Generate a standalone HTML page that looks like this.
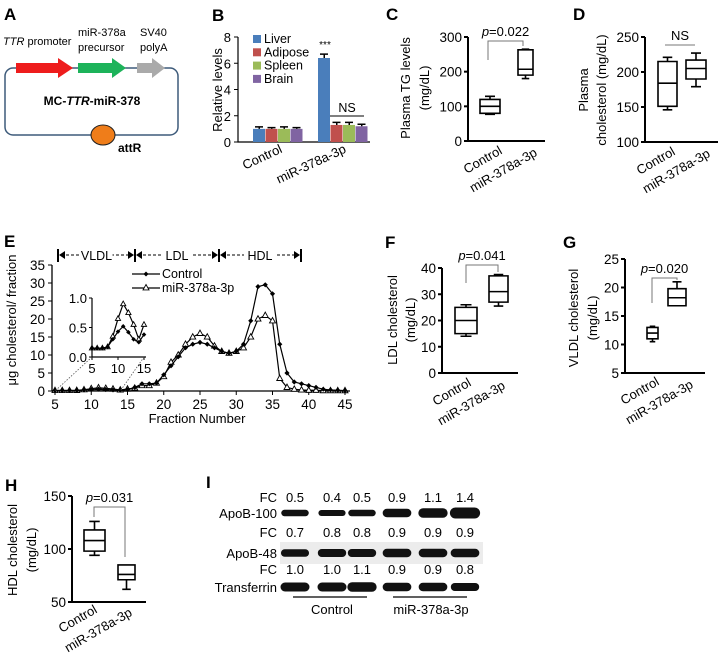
<!DOCTYPE html>
<html><head><meta charset="utf-8"><style>
body{margin:0;background:#fff}
svg{display:block;font-family:"Liberation Sans",Arial,sans-serif}
</style></head><body>
<svg id="fig" width="722" height="659" viewBox="0 0 722 659" xmlns="http://www.w3.org/2000/svg">
<g font-size="11">
<text x="4" y="20" font-size="17" font-weight="bold">A</text>
<text x="3" y="45"><tspan font-style="italic">TTR</tspan> promoter</text>
<text x="78" y="36">miR-378a</text>
<text x="78" y="51">precursor</text>
<text x="140" y="36">SV40</text>
<text x="140" y="51">polyA</text>
<rect x="5" y="68" width="173" height="67" rx="8" fill="none" stroke="#3d5a7a" stroke-width="1.5"/>
<polygon points="16,63 58,63 58,58 73,68 58,78 58,73 16,73" fill="#ee1c1c"/>
<polygon points="78,63 112,63 112,58 126,68 112,78 112,73 78,73" fill="#1db35a"/>
<polygon points="137,63 152,63 152,58 165,68 152,78 152,73 137,73" fill="#aaaaaa"/>
<text x="92" y="105" text-anchor="middle" font-weight="bold" font-size="12">MC-<tspan font-style="italic">TTR</tspan>-miR-378</text>
<ellipse cx="103" cy="135" rx="12" ry="10" fill="#ef7d1a" stroke="#222" stroke-width="1"/>
<text x="118" y="152" font-weight="bold" font-size="12">attR</text>
</g>
<g id="panelB"></g>
<g id="panelC"></g>
<g id="panelD"></g>
<g id="panelE"></g>
<g id="panelF"></g>
<g id="panelG"></g>
<g id="panelH"></g>
<g id="panelI"></g>
</svg>
<script>
// ---- Panel B data ----
const bGroups = ["Control","miR-378a-3p"];
const bSeries = ["Liver","Adipose","Spleen","Brain"];
const bColors = ["#4a7ebb","#c0504d","#9bbb59","#8064a2"];
const bCtrl = [1.0,1.0,1.0,1.0];
const bMir = [6.4,1.3,1.3,1.2];
const bCtrlErr = [0.15,0.1,0.15,0.1];
const bMirErr = [0.3,0.2,0.2,0.15];
const bTicks = [0,2,4,6,8];
// ---- Box plot data [min,q1,median,q3,max] ----
const cCtrl=[77,80,100,120,129], cMir=[180,190,207,263,265], cTicks=[0,100,200,300];
const dCtrl=[146,151,184,215,221], dMir=[179,190,205,217,227], dTicks=[100,150,200,250];
const fCtrl=[14,15,20,25,26], fMir=[25.5,27,31,37,37.5], fTicks=[0,10,20,30,40];
const gCtrl=[10.5,11,12,13,13.2], gMir=[16.8,16.8,18.2,19.8,21], gTicks=[5,10,15,20,25];
const hCtrl=[94,98,108,118,126], hMir=[62,71,76,85,85], hTicks=[50,100,150];
// ---- Panel E data ----
const eFractions=[5,6,7,8,9,10,11,12,13,14,15,16,17,18,19,20,21,22,23,24,25,26,27,28,29,30,31,32,33,34,35,36,37,38,39,40,41,42,43,44,45];
const eControl=[0.15,0.15,0.15,0.17,0.3,0.43,0.52,0.42,0.3,0.25,0.38,1,2,2,2.2,4.5,7,9.5,12,13,13.5,13,12,11,10.5,11,13,19.5,29,29.5,27,13,5,2.5,2,1.5,1,0.5,0.3,0.2,0.1];
const eMir=[0.15,0.15,0.15,0.17,0.35,0.65,0.9,0.75,0.55,0.3,0.55,0.8,1.5,1.5,2.2,4,8,10,13,15,16,15,12.5,11,10.5,11,12,15,20,21,19.5,3.5,1,0.5,0.3,0.2,0.2,0.1,0.1,0.1,0.1];
const eTicksY=[0,5,10,15,20,25,30,35], eTicksX=[5,10,15,20,25,30,35,40,45];
const eInsetTicksY=[0.0,0.5,1.0], eInsetTicksX=[5,10,15];
// ---- Panel I data ----
const iFC1=["0.5","0.4","0.5","0.9","1.1","1.4"];
const iFC2=["0.7","0.8","0.8","0.9","0.9","0.9"];
const iFC3=["1.0","1.0","1.1","0.9","0.9","0.8"];
const iApoB100=[0.5,0.4,0.5,0.9,1.1,1.4];
const iApoB48=[0.7,0.8,0.8,0.9,0.9,0.9];
const iTransferrin=[1.0,1.0,1.1,0.9,0.9,0.8];

const NS="http://www.w3.org/2000/svg";
function el(parent,tag,attrs,text){const e=document.createElementNS(NS,tag);for(const k in attrs)e.setAttribute(k,attrs[k]);if(text!==undefined)e.textContent=text;parent.appendChild(e);return e;}
function lin(d0,d1,r0,r1){return v=>r0+(v-d0)*(r1-r0)/(d1-d0);}

// ===== Panel B =====
(function(){
const g=document.getElementById('panelB');
let t=el(g,'text',{x:212,y:21,'font-size':17,'font-weight':'bold'},'B');

const y=lin(0,8,142,37);
let a=el(g,'path',{d:'M238,37 V142 H370',stroke:'#000',fill:'none','stroke-width':1.2});

bTicks.forEach(v=>{let l=el(g,'line',{x1:234,x2:238,y1:y(v),y2:y(v),stroke:'#000'});
let tt=el(g,'text',{x:231,y:y(v)+5,'text-anchor':'end','font-size':13},String(v));});
const groupX=[253,318], bw=12.5;
[bCtrl,bMir].forEach((vals,gi)=>{const errs=gi?bMirErr:bCtrlErr;vals.forEach((v,si)=>{
 const x=groupX[gi]+si*bw;
 let r=el(g,'rect',{x:x,y:y(v),width:bw-0.5,height:y(0)-y(v),fill:bColors[si]});
 
 let e=el(g,'path',{d:`M${x+bw/2},${y(v)} V${y(v+errs[si])} M${x+2},${y(v+errs[si])} H${x+bw-2.5}`,stroke:'#000','stroke-width':1.5});
 
});});
bSeries.forEach((s,i)=>{let r=el(g,'rect',{x:253,y:35+i*13.3,width:8,height:8,fill:bColors[i]});
let tx=el(g,'text',{x:264,y:43+i*13.3,'font-size':12.5},s);});
let st=el(g,'text',{x:325,y:y(6.4+0.3)-6,'text-anchor':'middle','font-size':10},'***');
let nl=el(g,'line',{x1:330,x2:364,y1:116,y2:116,stroke:'#000'});
let nt=el(g,'text',{x:347,y:112,'text-anchor':'middle','font-size':12.5},'NS');
const lx=[283,347];bGroups.forEach((n,i)=>{let tx=el(g,'text',{x:lx[i],y:152,'text-anchor':'end','font-size':13,transform:`rotate(-25 ${lx[i]} 152)`},n);});
let yt=el(g,'text',{x:0,y:0,'text-anchor':'middle','font-size':13,transform:'translate(222,90) rotate(-90)'},'Relative levels');
})();

// ===== Box plots =====
function boxPanel(o){
const g=document.getElementById(o.id);
let t=el(g,'text',{x:o.lx,y:o.ly,'font-size':17,'font-weight':'bold'},o.label);

const ticks=o.ticks;const y=lin(ticks[0],ticks[ticks.length-1],o.y0,o.y1);
let a=el(g,'path',{d:`M${o.ax},${o.y1} V${o.y0} H${o.axEnd}`,stroke:'#000',fill:'none','stroke-width':2});

ticks.forEach(v=>{let l=el(g,'line',{x1:o.ax-4,x2:o.ax,y1:y(v),y2:y(v),stroke:'#000','stroke-width':2});
let tt=el(g,'text',{x:o.ax-6,y:y(v)+5,'text-anchor':'end','font-size':13.5},String(v));});
[o.ctrl,o.mir].forEach((d,i)=>{const x0=o.bx[i][0],x1=o.bx[i][1],xm=(x0+x1)/2,w=(x1-x0)*0.25;
 let b=el(g,'path',{d:`M${x0},${y(d[1])} H${x1} V${y(d[3])} H${x0} Z M${x0},${y(d[2])} H${x1} M${xm},${y(d[1])} V${y(d[0])} M${xm-w},${y(d[0])} H${xm+w} M${xm},${y(d[3])} V${y(d[4])} M${xm-w},${y(d[4])} H${xm+w}`,stroke:'#000',fill:'none','stroke-width':1.6});
 });
if(o.br){const br=o.br;let p=el(g,'path',{d:`M${br.x0},${br.yl} V${br.top} H${br.x1} V${br.yr}`,stroke:'#777',fill:'none','stroke-width':1});

let pt=el(g,'text',{x:(br.x0+br.x1)/2,y:br.top-5,'text-anchor':'middle','font-size':13});
if(br.text==='NS'){pt.textContent='NS';}else{el(pt,'tspan',{'font-style':'italic'},'p');el(pt,'tspan',{},'='+br.text);}}
const names=['Control','miR-378a-3p'];o.xl.forEach((p,i)=>{let tx=el(g,'text',{x:p[0],y:p[1],'text-anchor':'end','font-size':13,transform:`rotate(-30 ${p[0]} ${p[1]})`},names[i]);});
o.yt.forEach((s,i)=>{let tx=el(g,'text',{x:0,y:0,'text-anchor':'middle','font-size':13,transform:`translate(${o.ytx[i]},${o.ytc}) rotate(-90)`},s);});
}
boxPanel({id:'panelC',label:'C',lx:386,ly:20,ticks:cTicks,ctrl:cCtrl,mir:cMir,y0:141,y1:37,ax:468,axEnd:545,bx:[[480,500],[518,533]],br:{x0:488,x1:523,top:41,yl:60,yr:46,text:'0.022'},xl:[[503,153],[538,155]],yt:['Plasma TG levels','(mg/dL)'],ytx:[410,429],ytc:88});
boxPanel({id:'panelD',label:'D',lx:573,ly:20,ticks:dTicks,ctrl:dCtrl,mir:dMir,y0:142,y1:37,ax:645,axEnd:718,bx:[[658,677],[686,706]],br:{x0:665,x1:695,top:45,yl:45,yr:45,text:'NS'},xl:[[676,154],[711,156]],yt:['Plasma','cholesterol (mg/dL)'],ytx:[588,606],ytc:90});
boxPanel({id:'panelF',label:'F',lx:385,ly:248,ticks:fTicks,ctrl:fCtrl,mir:fMir,y0:373,y1:268,ax:442,axEnd:518,bx:[[455,477],[489,508]],br:{x0:466,x1:498,top:265,yl:283,yr:272,text:'0.041'},xl:[[472,385],[506,388]],yt:['LDL cholesterol','(mg/dL)'],ytx:[397,415],ytc:320});
boxPanel({id:'panelG',label:'G',lx:563,ly:248,ticks:gTicks,ctrl:gCtrl,mir:gMir,y0:373,y1:259,ax:625,axEnd:705,bx:[[647,658],[668,686]],br:{x0:652,x1:677,top:278,yl:303,yr:280,text:'0.020'},xl:[[660,384],[694,387]],yt:['VLDL cholesterol','(mg/dL)'],ytx:[578,597],ytc:318});
boxPanel({id:'panelH',label:'H',lx:5,ly:491,ticks:hTicks,ctrl:hCtrl,mir:hMir,y0:602,y1:496,ax:72,axEnd:146,bx:[[84,105],[118,135]],br:{x0:94,x1:125,top:507,yl:517,yr:557,text:'0.031'},xl:[[98,612],[133,615]],yt:['HDL cholesterol','(mg/dL)'],ytx:[17,36],ytc:550});

// ===== Panel E =====
(function(){
const g=document.getElementById('panelE');
let t=el(g,'text',{x:4,y:247,'font-size':17,'font-weight':'bold'},'E');
const x=lin(5,45,55,345), y=lin(0,35,391,265);
let a=el(g,'path',{d:'M52,265 V391 H350',stroke:'#000',fill:'none','stroke-width':1.3});
eTicksY.forEach(v=>{let l=el(g,'line',{x1:48,x2:52,y1:y(v),y2:y(v),stroke:'#000'});
let tt=el(g,'text',{x:45,y:y(v)+5,'text-anchor':'end','font-size':13.5},String(v));});
eTicksX.forEach(v=>{let l=el(g,'line',{x1:x(v),x2:x(v),y1:391,y2:395,stroke:'#000'});
let tt=el(g,'text',{x:x(v),y:409,'text-anchor':'middle','font-size':13.5},String(v));});
let xt=el(g,'text',{x:197,y:423,'text-anchor':'middle','font-size':13},'Fraction Number');
let yt=el(g,'text',{x:0,y:0,'text-anchor':'middle','font-size':13,transform:'translate(16,320) rotate(-90)'},'μg cholesterol/ fraction');
let hb=el(g,'path',{d:'M58,249 V262 M135,249 V262 M219,249 V262 M301,249 V262',stroke:'#000','stroke-width':2});
[['VLDL',58,135],['LDL',135,219],['HDL',219,301]].forEach(s=>{
 let d=el(g,'line',{x1:s[1]+3,x2:s[2]-3,y1:255,y2:255,stroke:'#000','stroke-dasharray':'3,2'});
 let ar=el(g,'path',{d:`M${s[1]+1},255 l6,-4 v8 z M${s[2]-1},255 l-6,-4 v8 z`,fill:'#000'});
 let r=el(g,'rect',{x:(s[1]+s[2])/2-16,y:248,width:32,height:13,fill:'#fff'});
 let tx=el(g,'text',{x:(s[1]+s[2])/2,y:260,'text-anchor':'middle','font-size':12.5},s[0]);});
function series(xf,yf,xs,ys,filled,name,r){const pts=xs.map((f,i)=>[xf(f),yf(ys[i])]);
 let p=el(g,'polyline',{points:pts.map(q=>q.join(',')).join(' '),fill:'none',stroke:'#000','stroke-width':1.2});
 pts.forEach(q=>{let m;if(filled){m=el(g,'path',{d:`M${q[0]},${q[1]-r} l${r},${r} l${-r},${r} l${-r},${-r} z`,fill:'#000'});}else{m=el(g,'path',{d:`M${q[0]},${q[1]-r*1.1} l${r},${r*1.8} h${-2*r} z`,fill:'#fff',stroke:'#000','stroke-width':0.9});}
 });}
series(x,y,eFractions,eMir,false,'mir-378a-3p',3);
series(x,y,eFractions,eControl,true,'control',2.6);
let l1=el(g,'line',{x1:132,x2:160,y1:274,y2:274,stroke:'#000','stroke-width':1.2});
let m1=el(g,'path',{d:'M146,271.5 l2.5,2.5 l-2.5,2.5 l-2.5,-2.5 z',fill:'#000'});
let t1=el(g,'text',{x:162,y:278,'font-size':12.5},'Control');
let l2=el(g,'line',{x1:132,x2:160,y1:288,y2:288,stroke:'#000','stroke-width':1.2});
let m2=el(g,'path',{d:'M146,284.5 l3,5.4 h-6 z',fill:'#fff',stroke:'#000','stroke-width':0.9});
let t2=el(g,'text',{x:162,y:292,'font-size':12.5},'miR-378a-3p');
const ix=lin(5,15,92,144), iy=lin(0,1,357,298);
const fIdx=eFractions.map((f,i)=>i).filter(i=>eFractions[i]<=15);
const ixs=fIdx.map(i=>eFractions[i]);
let ia=el(g,'path',{d:'M92,298 V357 H146',stroke:'#000',fill:'none','stroke-width':1.2});
eInsetTicksY.forEach(v=>{let l=el(g,'line',{x1:89,x2:92,y1:iy(v),y2:iy(v),stroke:'#000'});
let tt=el(g,'text',{x:87,y:iy(v)+5,'text-anchor':'end','font-size':13},v.toFixed(1));});
eInsetTicksX.forEach(v=>{let l=el(g,'line',{x1:ix(v),x2:ix(v),y1:357,y2:360,stroke:'#000'});
let tt=el(g,'text',{x:ix(v),y:373,'text-anchor':'middle','font-size':13},String(v));});
series(ix,iy,ixs,fIdx.map(i=>eMir[i]),false,'inset-mir',2.6);
series(ix,iy,ixs,fIdx.map(i=>eControl[i]),true,'inset-control',2.3);
let dl=el(g,'path',{d:`M92,357 L${x(5)},391 M144,357 L${x(14)},391`,stroke:'#555','stroke-dasharray':'1.5,1.5','stroke-width':0.8});
})();

// ===== Panel I =====
(function(){
const g=document.getElementById('panelI');
let t=el(g,'text',{x:206,y:488,'font-size':17,'font-weight':'bold'},'I');
const lanes=[295,332,362,397,433,465];
let bg=el(g,'rect',{x:280,y:542,width:203,height:22,fill:'#ececec'});
[[iFC1,502],[iFC2,537],[iFC3,574]].forEach((r,ri)=>{
 let f=el(g,'text',{x:277,y:r[1],'text-anchor':'end','font-size':13},'FC');
 r[0].forEach((v,i)=>{let tx=el(g,'text',{x:lanes[i],y:r[1],'text-anchor':'middle','font-size':13},v);});});
[['ApoB-100',iApoB100,513],['ApoB-48',iApoB48,553],['Transferrin',iTransferrin,587]].forEach(b=>{
 let l=el(g,'text',{x:277,y:b[2]+5,'text-anchor':'end','font-size':13},b[0]);
 b[1].forEach((v,i)=>{const h=4+v*5,w=26+v*3;let e=el(g,'rect',{x:lanes[i]-w/2,y:b[2]-h/2,width:w,height:h,rx:h/2,fill:'#111'});});});
let u=el(g,'path',{d:'M293,597 H367 M393,597 H467',stroke:'#000','stroke-width':1.2});
let c=el(g,'text',{x:332,y:614,'text-anchor':'middle','font-size':13},'Control');
let m=el(g,'text',{x:431,y:614,'text-anchor':'middle','font-size':13},'miR-378a-3p');
})();
</script>
</body></html>
